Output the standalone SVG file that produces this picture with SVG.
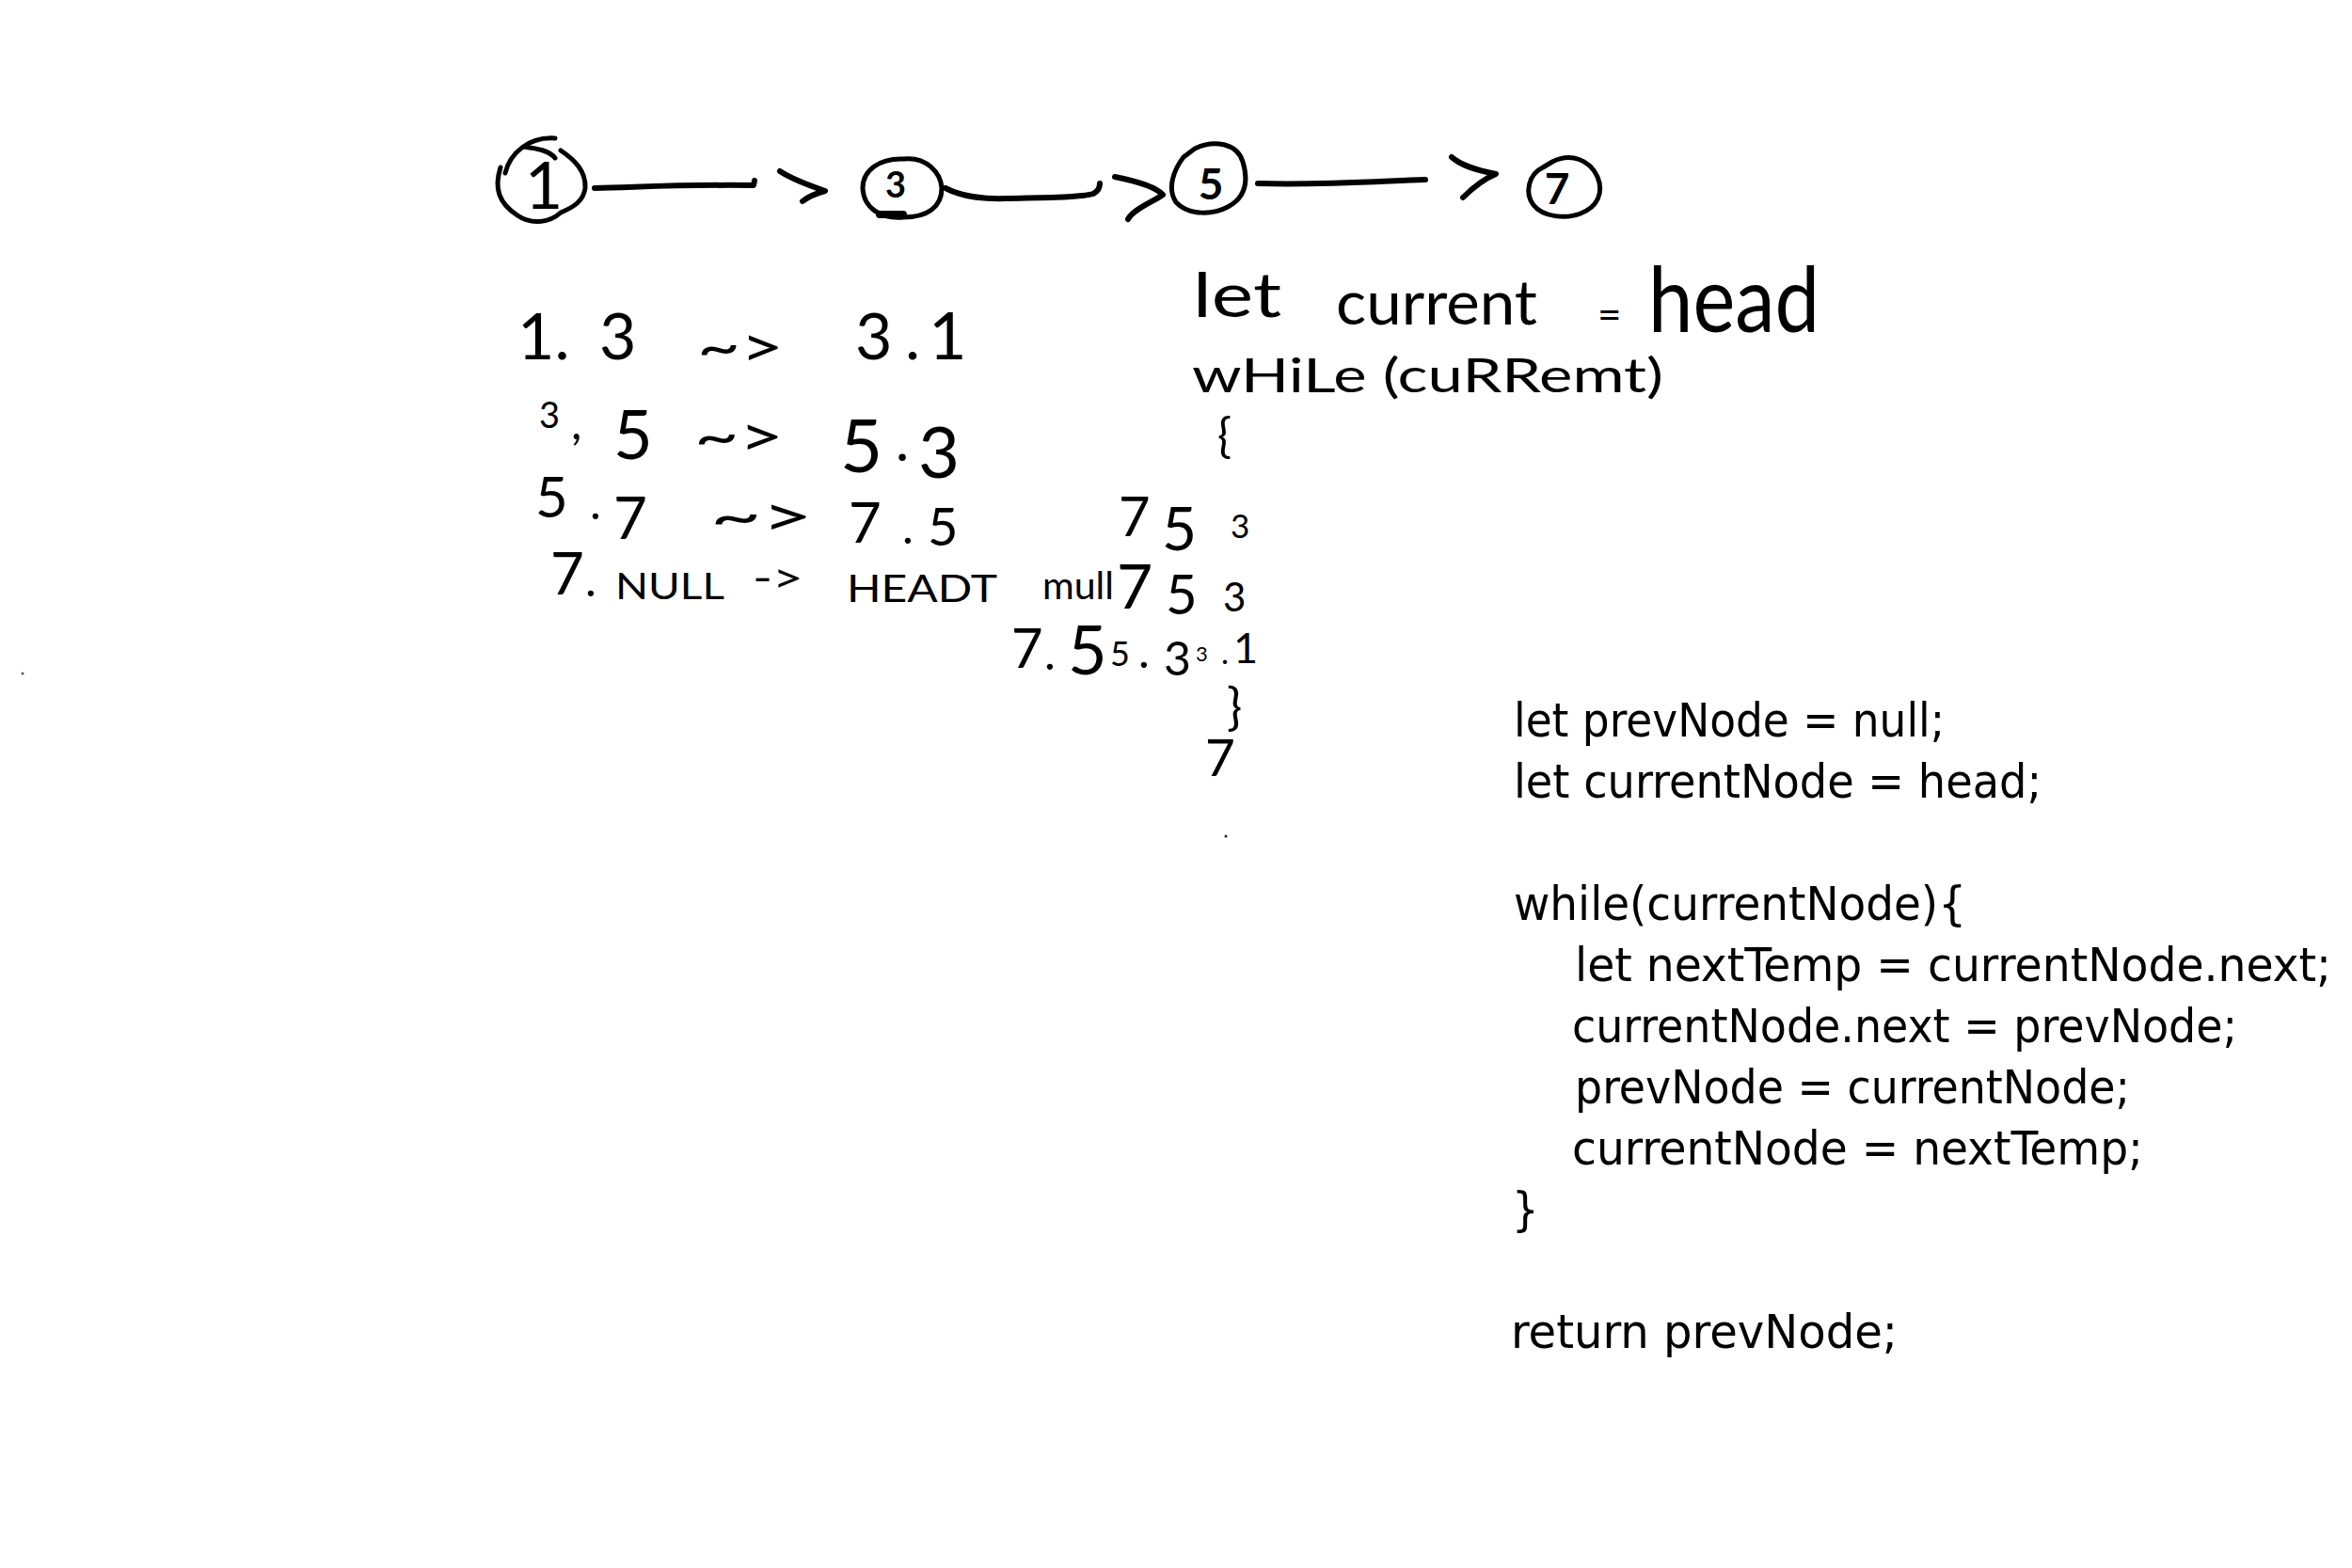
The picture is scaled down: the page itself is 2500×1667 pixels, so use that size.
<svg xmlns="http://www.w3.org/2000/svg" width="2500" height="1667" viewBox="0 0 2500 1667">
<style>
.bg{fill:#ffffff}
.ring{fill:none;stroke:#000;stroke-width:5;stroke-linecap:round;stroke-linejoin:round}
.stroke{fill:none;stroke:#000;stroke-width:6;stroke-linecap:round;stroke-linejoin:round}
.hw{font-family:Lato,"DejaVu Sans",sans-serif;font-weight:400;fill:#000}
.num{font-family:Lato,"DejaVu Sans",sans-serif;font-weight:700;fill:#000;text-anchor:middle}
.code{font-family:"DejaVu Sans",sans-serif;font-stretch:condensed;font-size:50px;fill:#000}
</style>
<rect class="bg" x="0" y="0" width="2500" height="1667"/>

<g id="node-1">
<path class="ring" d="M590,147 C562,145 542,163 537,184"/>
<path class="ring" d="M532,178 C525,200 530,216 550,229 C566,240 585,236 596,226 C610,220 620,214 622,200 C623,182 611,170 596,160"/>
<path class="ring" d="M557,156 C571,158 584,160 590,168"/>
<text class="hw" x="578" y="222" font-size="70" text-anchor="middle">1</text>
</g>
<g id="node-3">
<path class="ring" d="M960,169 C985,166 1000,184 1001,200 C1001,220 986,231 960,231 C936,233 918,221 917,200 C917,181 935,168 960,169 Z"/>
<path class="ring" d="M935,228 L960,228" style="stroke-width:8"/>
<text class="num" x="952" y="210" font-size="38">3</text>
</g>
<g id="node-5">
<path class="ring" d="M1270,158 C1290,148 1315,152 1321,172 C1328,195 1322,211 1305,220 C1290,228 1264,230 1250,215 C1240,200 1248,180 1258,167 Z"/>
<text class="num" x="1287" y="212" font-size="46">5</text>
</g>
<g id="node-7">
<path class="ring" d="M1650,172 C1670,162 1690,170 1698,188 C1705,205 1698,220 1680,227 C1665,233 1640,231 1630,218 C1620,205 1625,185 1640,178 Z"/>
<text class="num" x="1655" y="217" font-size="46">7</text>
</g>

<g id="connectors">
<path class="stroke" d="M632,200 C680,199 720,196 801,197 L802,192"/>
<path class="stroke" d="M829,182 C838,188 848,193 877,203 C866,206 858,210 853,214"/>
<path class="stroke" d="M1005,200 C1020,208 1040,212 1070,211 C1110,210 1150,210 1162,206 C1168,203 1169,198 1169,195"/>
<path class="stroke" d="M1185,188 C1205,192 1228,198 1236,207 C1225,215 1205,222 1199,233"/>
<path class="stroke" d="M1337,195 C1400,197 1460,193 1515,191"/>
<path class="stroke" d="M1543,167 C1552,175 1565,180 1590,185 C1578,190 1565,200 1555,210"/>
</g>

<g id="notes-left">
<text class="hw" font-size="68"><tspan x="550" y="382">1.</tspan><tspan x="637" y="382">3</tspan><tspan x="909" y="382">3</tspan><tspan x="962" y="382">.</tspan><tspan x="987" y="382" font-size="70">1</tspan></text>
<text class="hw" x="741" y="390" font-size="60" textLength="92" lengthAdjust="spacingAndGlyphs">~&gt;</text>

<text class="hw" font-size="60"><tspan x="573" y="455" font-size="38">3</tspan><tspan x="607" y="467" font-size="50">,</tspan><tspan x="652" y="488" font-size="72">5</tspan><tspan x="893" y="502" font-size="78">5</tspan><tspan x="952" y="490">.</tspan><tspan x="976" y="508" font-size="76">3</tspan></text>
<text class="hw" x="738" y="485" font-size="60" textLength="95" lengthAdjust="spacingAndGlyphs">~&gt;</text>

<text class="hw" font-size="60"><tspan x="569" y="550">5</tspan><tspan x="627" y="552" font-size="50">.</tspan><tspan x="652" y="573" font-size="62">7</tspan><tspan x="902" y="577" font-size="60">7</tspan><tspan x="959" y="578" font-size="50">.</tspan><tspan x="986" y="580" font-size="56">5</tspan><tspan x="1189" y="570" font-size="58">7</tspan><tspan x="1235" y="585" font-size="64">5</tspan><tspan x="1308" y="572" font-size="35">3</tspan></text>
<text class="hw" x="755" y="570" font-size="60" textLength="109" lengthAdjust="spacingAndGlyphs">~&gt;</text>

<text class="hw" font-size="62"><tspan x="585" y="632">7</tspan><tspan x="622" y="634" font-size="50">.</tspan><tspan x="1187" y="647" font-size="66">7</tspan><tspan x="1239" y="653" font-size="58">5</tspan><tspan x="1300" y="650" font-size="42">3</tspan></text>
<text class="hw" x="654" y="637" font-size="38" textLength="116" lengthAdjust="spacingAndGlyphs">NULL</text>
<text class="hw" x="800" y="630" font-size="44" textLength="54" lengthAdjust="spacingAndGlyphs">-&gt;</text>
<text class="hw" x="900" y="640" font-size="40" textLength="160" lengthAdjust="spacingAndGlyphs">HEADT</text>
<text class="hw" x="1108" y="637" font-size="40" textLength="76" lengthAdjust="spacingAndGlyphs">mull</text>

<text class="hw" font-size="58"><tspan x="1075" y="710">7</tspan><tspan x="1110" y="712" font-size="50">.</tspan><tspan x="1135" y="717" font-size="72">5</tspan><tspan x="1180" y="708" font-size="36">5</tspan><tspan x="1210" y="710" font-size="50">.</tspan><tspan x="1237" y="718" font-size="50">3</tspan><tspan x="1271" y="703" font-size="22">3</tspan><tspan x="1298" y="706" font-size="34">.</tspan><tspan x="1311" y="705" font-size="45">1</tspan><tspan x="1304" y="770" font-size="54">}</tspan><tspan x="1281" y="825" font-size="55">7</tspan></text>
</g>

<g id="notes-pseudocode">
<text class="hw" x="1268" y="337" font-size="66" textLength="94" lengthAdjust="spacingAndGlyphs">let</text>
<text class="hw" x="1420" y="345" font-size="66" textLength="214" lengthAdjust="spacingAndGlyphs">current</text>
<text class="hw" x="1698" y="350" font-size="44">=</text>
<text class="hw" x="1752" y="353" font-size="96" textLength="182" lengthAdjust="spacingAndGlyphs">head</text>
<text class="hw" font-size="50"><tspan x="1267" y="417" textLength="501" lengthAdjust="spacingAndGlyphs">wHiLe (cuRRemt)</tspan><tspan x="1294" y="481" font-size="50">{</tspan></text>
</g>

<g id="code-block">
<text class="code" x="1609" y="783" textLength="458" lengthAdjust="spacingAndGlyphs">let prevNode = null;</text>
<text class="code" x="1609" y="848" textLength="561" lengthAdjust="spacingAndGlyphs">let currentNode = head;</text>
<text class="code" x="1609" y="978" textLength="481" lengthAdjust="spacingAndGlyphs">while(currentNode){</text>
<text class="code" x="1674" y="1043" textLength="804" lengthAdjust="spacingAndGlyphs">let nextTemp = currentNode.next;</text>
<text class="code" x="1671" y="1108" textLength="707" lengthAdjust="spacingAndGlyphs">currentNode.next = prevNode;</text>
<text class="code" x="1674" y="1173" textLength="590" lengthAdjust="spacingAndGlyphs">prevNode = currentNode;</text>
<text class="code" x="1671" y="1238" textLength="607" lengthAdjust="spacingAndGlyphs">currentNode = nextTemp;</text>
<text class="code" x="1607" y="1303">}</text>
<text class="code" x="1606" y="1433" textLength="411" lengthAdjust="spacingAndGlyphs">return prevNode;</text>
</g>

<g id="stray-marks">
<circle cx="24" cy="716" r="1.5" fill="#555"/>
<circle cx="1303" cy="889" r="1.5" fill="#222"/>
</g>
</svg>
